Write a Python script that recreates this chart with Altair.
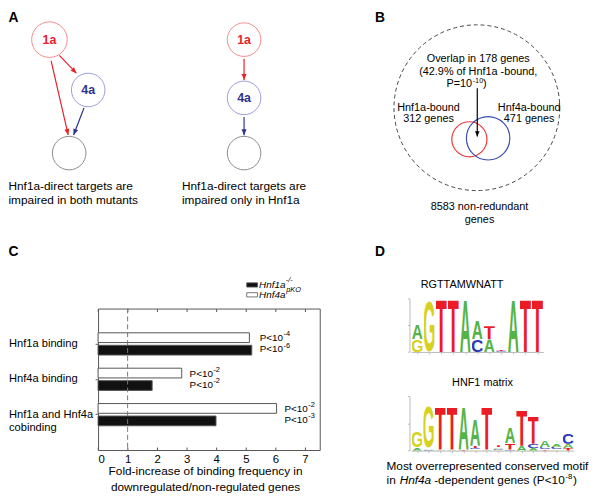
import math
import urllib.parse

import altair as alt
import pandas as pd

# ------------------------------------------------------------------ data
# Panel C: fold-increase of binding frequency (downregulated / non-regulated genes)
categories = ["Hnf1a binding", "Hnf4a binding", "Hnf1a and Hnf4a\ncobinding"]
genotypes = ["Hnf4a pKO", "Hnf1a -/-"]  # first one is the white bar (drawn above)
fold_hnf4a_pko = [5.12, 2.83, 6.04]
fold_hnf1a_ko = [5.20, 1.83, 3.99]
p_exp_hnf4a_pko = ["-4", "-2", "-2"]
p_exp_hnf1a_ko = ["-6", "-2", "-3"]
fold_ticks = [0, 1, 2, 3, 4, 5, 6, 7]
fold_domain = [0, 7.5]
reference_fold = [1]

# Panel D: sequence logos (letter stacks per position, bits)
logo1_letters = [["G", "A"], ["G"], ["T"], ["T"], ["A"], ["C", "A"], ["A", "T"],
                 ["C", "T"], ["A"], ["T"], ["T"]]
logo1_bits = [[0.49, 0.53], [1.97], [2.0], [2.0], [2.0], [0.47, 0.70], [0.47, 0.50],
              [0.03, 0.04], [2.0], [2.0], [2.0]]
logo2_letters = [["A", "G"], ["C", "A", "G"], ["A", "T"], ["A", "T"], ["T", "A"],
                 ["G", "C", "T", "A"], ["A", "T"], ["G", "C", "A", "T"], ["C", "T", "A"],
                 ["A", "T"], ["A", "C", "T"], ["T", "C", "A"], ["G", "C", "A"], ["T", "A", "C"]]
logo2_bits = [[0.10, 0.60], [0.04, 0.06, 1.56], [0.04, 1.62], [0.04, 1.62], [0.04, 1.60],
              [0.04, 0.06, 0.08, 0.97], [0.04, 1.62], [0.03, 0.04, 0.05, 0.08],
              [0.04, 0.24, 0.60], [0.18, 1.33], [0.10, 0.15, 1.03], [0.04, 0.08, 0.24],
              [0.05, 0.09, 0.10], [0.10, 0.15, 0.42]]
logo_bit_ticks = [0, 1, 2]

# ------------------------------------------------------------------ layout / style
PAGE = 8                      # page margin; layout below is in reference-pixel units
W, H = 600 - PAGE, 502 - PAGE
FONT = "Liberation Sans"
FRAME = "#555555"
RED, BLUE, GREY = "#e8202a", "#2e3192", "#8a8a8a"


def cx(v):
    return v - PAGE


def cy(v):
    return v - PAGE


PXS = alt.Scale(domain=[PAGE, PAGE + W], range=[0, W], nice=False, zero=False)
PYS = alt.Scale(domain=[PAGE, PAGE + H], range=[0, H], nice=False, zero=False)


def pos_x(field):
    return alt.X(field, type="quantitative", scale=PXS, axis=None)


def pos_y(field):
    return alt.Y(field, type="quantitative", scale=PYS, axis=None)


def ptext(rows, size=12, weight="normal", style="normal", color="black", align="left"):
    df = pd.DataFrame(rows, columns=["x", "y", "text"])
    return alt.Chart(df).mark_text(
        font=FONT, fontSize=size, fontWeight=weight, fontStyle=style, color=color,
        align=align, baseline="middle"
    ).encode(x=pos_x("x"), y=pos_y("y"), text="text:N")


ARROW = "M0,0L-0.42,1L0.42,1Z"


def arrows(rows, color, head=6.0):
    df = pd.DataFrame(rows, columns=["x1", "y1", "x2", "y2"])
    df["ang"] = [(math.degrees(math.atan2(b - a, -(d - c))) + 360) % 360
                 for a, b, c, d in zip(df.x1, df.x2, df.y1, df.y2)]
    rule = alt.Chart(df).mark_rule(color=color, strokeWidth=1.2).encode(
        x=pos_x("x1"), y=pos_y("y1"), x2="x2:Q", y2="y2:Q")
    tip = alt.Chart(df).mark_point(
        shape=ARROW, filled=True, color=color, opacity=1, strokeWidth=0,
        size=(2 * head) ** 2
    ).encode(x=pos_x("x2"), y=pos_y("y2"), angle=alt.Angle("ang:Q", scale=None))
    return [rule, tip]


def circles(rows, color, width=1.0, dash=None):
    df = pd.DataFrame(rows, columns=["x", "y", "r"])
    df["s"] = (2 * df["r"]) ** 2
    kw = dict(shape="circle", filled=False, color=color, strokeWidth=width, opacity=1)
    if dash:
        kw["strokeDash"] = dash
    return alt.Chart(df).mark_point(**kw).encode(
        x=pos_x("x"), y=pos_y("y"), size=alt.Size("s:Q", scale=None))


layers = []

# ------------------------------------------------------------------ panel A
layers.append(circles([(50, 36.7, 18), (247.3, 36.7, 17)], "#f28c8c"))
layers.append(circles([(89.3, 87.7, 17), (247.3, 95.7, 17)], "#9a9ad6"))
layers.append(circles([(70, 151.7, 17), (247.3, 151.7, 17)], GREY))
layers += arrows([(51.7, 58.3, 69, 133.3), (60, 52.7, 77.3, 70.7), (247.3, 56, 247.3, 77.5)], RED)
layers += arrows([(85, 106, 74.5, 133.3), (247.3, 115, 247.3, 133.5)], BLUE)
layers.append(ptext([(50, 36.7, "1a"), (247.3, 36.7, "1a")], size=12.5, weight="bold", color=RED, align="center"))
layers.append(ptext([(89.3, 87.7, "4a"), (247.3, 95.7, "4a")], size=12.5, weight="bold", color=BLUE, align="center"))
layers.append(ptext([
    (8.5, 185, "Hnf1a-direct targets are"), (8.5, 199.3, "impaired in both mutants"),
    (184.3, 185, "Hnf1a-direct targets are"), (184.3, 199.3, "impaired only in Hnf1a"),
], size=12))

# ------------------------------------------------------------------ panel B
layers.append(circles([(483.3, 105.7, 84)], "#444444", dash=[4, 3]))
layers.append(circles([(475.7, 137.7, 17.8)], "#e83a3a", width=1.2))
layers.append(circles([(494.7, 136.7, 22)], "#3a4fb0", width=1.2))
layers += arrows([(483.7, 86, 483.7, 135)], "black", head=5.5)
layers.append(ptext([
    (484.7, 56.7, "Overlap in 178 genes"), (484.7, 69.3, "(42.9% of Hnf1a -bound,"),
    (434.3, 106, "Hnf1a-bound"), (434.3, 117.3, "312 genes"),
    (536.3, 106, "Hnf4a-bound"), (536.3, 117.3, "471 genes"),
    (486, 206.7, "8583 non-redundant"), (486, 219.3, "genes"),
], size=11, align="center"))
layers.append(ptext([(478.5, 81.3, "P=10")], size=11, align="right"))
layers.append(ptext([(479, 78.6, "-10")], size=7.5))
layers.append(ptext([(489.5, 81.3, " )")], size=11))

# ------------------------------------------------------------------ panel letters
layers.append(ptext([(8.5, 14.5, "A"), (380, 14.5, "B"), (8.5, 252, "C"), (380, 252, "D")],
                    size=14, weight="bold"))

# ------------------------------------------------------------------ panel C
pc = pd.DataFrame({
    "category": categories * 2,
    "genotype": [genotypes[0]] * 3 + [genotypes[1]] * 3,
    "fold": fold_hnf4a_pko + fold_hnf1a_ko,
    "exp": p_exp_hnf4a_pko + p_exp_hnf1a_ko,
})
C_L, C_R, C_T, C_B = 99.3, 324.0, 309.3, 452.7
FOLD_X = alt.Scale(domain=fold_domain, range=[cx(C_L), cx(C_R)], nice=False, zero=False)
CAT_Y = alt.Scale(domain=categories, range=[cy(C_T), cy(C_B)], paddingInner=0.372, paddingOuter=0.686)
GEN_OFF = alt.Scale(domain=genotypes, paddingInner=0.22)
GEN_FILL = alt.Scale(domain=genotypes, range=["white", "#111111"])

bars = alt.Chart(pc).mark_bar(stroke="#555555", strokeWidth=1).encode(
    x=alt.X("fold:Q", scale=FOLD_X, axis=alt.Axis(
        orient="bottom", offset=cy(C_B) - H, values=fold_ticks, ticks=False, domain=True,
        domainColor=FRAME, labelFontSize=11.5, labelPadding=3.5, labelColor="black",
        labelFont=FONT, format="d", title=None)),
    y=alt.Y("category:N", scale=CAT_Y, axis=alt.Axis(
        orient="left", offset=-cx(C_L), ticks=True, tickSize=3, tickColor=FRAME,
        domainColor=FRAME, labelAlign="left", labelBaseline="middle", labelPadding=cx(C_L) - 3 - 0.5,
        labelExpr="split(datum.label, '\\n')", labelLineHeight=13.6, labelFontSize=11.3,
        labelColor="black", labelFont=FONT, labelLimit=300, title=None)),
    yOffset=alt.YOffset("genotype:N", scale=GEN_OFF),
    fill=alt.Fill("genotype:N", scale=GEN_FILL, legend=None),
)
layers.append(bars)

PSIZE = 10
ptxt = alt.Chart(pc).transform_joinaggregate(
    xmax="max(fold)", groupby=["category"]
).mark_text(font=FONT, fontSize=PSIZE, align="left", baseline="middle", dx=8, text="P<10").encode(
    x=alt.X("xmax:Q", scale=FOLD_X, axis=alt.Axis(
        orient="top", offset=-cy(C_B), values=fold_ticks, ticks=True, tickSize=3,
        tickColor=FRAME, labels=False, domain=False, title=None)),
    y=alt.Y("category:N", scale=CAT_Y, axis=alt.Axis(
        orient="right", offset=cx(C_R) - W, ticks=False, labels=False, domain=True,
        domainColor=FRAME, title=None)),
    yOffset=alt.YOffset("genotype:N", scale=GEN_OFF),
)
layers.append(ptxt)

psup = alt.Chart(pc).transform_joinaggregate(
    xmax="max(fold)", groupby=["category"]
).mark_text(font=FONT, fontSize=7.5, align="left", baseline="middle",
            dx=8 + 2.363 * PSIZE + 0.5, dy=-4).encode(
    x=alt.X("xmax:Q", scale=FOLD_X, axis=alt.Axis(
        orient="bottom", offset=cy(C_T) - H, values=fold_ticks, ticks=True, tickSize=3,
        tickColor=FRAME, labels=False, domain=True, domainColor=FRAME, title=None)),
    y=alt.Y("category:N", scale=CAT_Y, axis=None),
    yOffset=alt.YOffset("genotype:N", scale=GEN_OFF),
    text="exp:N",
)
layers.append(psup)

ref_rule = alt.Chart(pd.DataFrame({"fold": reference_fold})).mark_rule(
    color="#777777", strokeDash=[5, 3], strokeWidth=1
).encode(
    x=alt.X("fold:Q", scale=FOLD_X, axis=None),
    y=alt.YDatum(0, scale=alt.Scale(domain=[0, 1], range=[cy(C_T), cy(C_B)]), axis=None),
    y2=alt.Y2Datum(1),
)
layers.append(ref_rule)

# legend of panel C
leg = pd.DataFrame({"genotype": [genotypes[1], genotypes[0]],
                    "x1": [250, 250], "x2": [261, 261],
                    "y1": [283.2, 293.2], "y2": [287.5, 297.5]})
layers.append(alt.Chart(leg).mark_rect(stroke="#555555", strokeWidth=0.8).encode(
    x=pos_x("x1"), x2="x2:Q", y=pos_y("y1"), y2="y2:Q",
    fill=alt.Fill("genotype:N", scale=GEN_FILL, legend=None)))
layers.append(ptext([(262.5, 285.3, "Hnf1a"), (262.5, 295.4, "Hnf4a")], size=10, style="italic"))
layers.append(ptext([(289.5, 280.8, "-/-"), (290.0, 290.9, "pKO")], size=7.5, style="italic"))

# axis title
layers.append(ptext([(208.3, 474, "Fold-increase of binding frequency in"),
                     (208.3, 490, "downregulated/non-regulated genes")], size=12, align="center"))

# ------------------------------------------------------------------ panel D
GLYPH_BOX = {"A": (0, -716, 722, 716), "C": (44, -728, 640, 747),
             "G": (44, -728, 682, 747), "T": (21, -716, 570, 716)}
LETTER_COLOR = {"A": "#55b447", "C": "#2c3cb4", "G": "#d6d21f", "T": "#ec1c24"}


def letter_url(letter):
    x0, y0, w, h = GLYPH_BOX[letter]
    svg = (f"<svg xmlns='http://www.w3.org/2000/svg' width='100' height='100' "
           f"viewBox='{x0} {y0} {w} {h}' preserveAspectRatio='none'>"
           f"<text x='0' y='0' font-family='Liberation Sans, Arial, sans-serif' font-weight='bold' "
           f"font-size='1000' fill='{LETTER_COLOR[letter]}'>{letter}</text></svg>")
    return "data:image/svg+xml;charset=utf-8," + urllib.parse.quote(svg)


def logo(letters, bits, x_first, x_last, y_base, y_top, axis_x):
    rows = []
    for i, (ls, bs) in enumerate(zip(letters, bits), start=1):
        for l, b in zip(ls, bs):
            rows.append({"pos": i, "letter": l, "bits": b, "url": letter_url(l)})
    df = pd.DataFrame(rows)
    n = len(letters)
    xs = alt.Scale(domain=[0.5, n + 0.5], range=[cx(x_first), cx(x_last)], nice=False, zero=False)
    ys = alt.Scale(domain=[0, 2], range=[cy(y_base), cy(y_top)], nice=False, zero=False)
    return alt.Chart(df).transform_stack(
        stack="bits", groupby=["pos"], sort=[alt.SortField("bits", order="ascending")], as_=["b0", "b1"]
    ).transform_calculate(
        x0="datum.pos - 0.46", x1="datum.pos + 0.46"
    ).mark_image(aspect=False).encode(
        x=alt.X("x0:Q", scale=xs, axis=alt.Axis(
            orient="bottom", offset=cy(y_base) - H, values=list(range(1, n + 1)), tickSize=2,
            tickColor="#bbbbbb", domainColor="#bbbbbb", labels=False, title=None)),
        x2="x1:Q",
        y=alt.Y("b0:Q", scale=ys, axis=alt.Axis(
            orient="left", offset=-cx(axis_x), values=logo_bit_ticks, tickSize=2,
            tickColor="#bbbbbb", domainColor="#bbbbbb", labels=False, title=None)),
        y2="b1:Q",
        url="url:N",
    )


layers.append(logo(logo1_letters, logo1_bits, 416.7, 550.7, 353.3, 299.3, 415))
layers.append(logo(logo2_letters, logo2_bits, 416.7, 581.7, 453.3, 398.3, 415))
layers.append(ptext([(468.3, 285, "RGTTAMWNATT"), (489, 385, "HNF1 matrix")], size=11, align="center"))
layers.append(ptext([(391.7, 469, "Most overrepresented conserved motif"), (391.7, 483.5, "in"),
                     (440, 483.5, "-dependent genes (P<10"), (580.8, 483.5, ")")], size=12))
layers.append(ptext([(405, 483.5, "Hnf4a")], size=12, style="italic"))
layers.append(ptext([(573, 479.8, "-8")], size=8))

chart = alt.layer(*layers).resolve_scale(
    x="independent", y="independent", yOffset="independent"
).resolve_axis(
    x="independent", y="independent"
).properties(
    width=W, height=H, autosize=alt.AutoSizeParams(type="none"), padding=0, background="white"
).configure_view(stroke=None).configure_axis(grid=False, labelFont=FONT, titleFont=FONT)

chart.save("out.html", embed_options={"renderer": "svg", "actions": False})
